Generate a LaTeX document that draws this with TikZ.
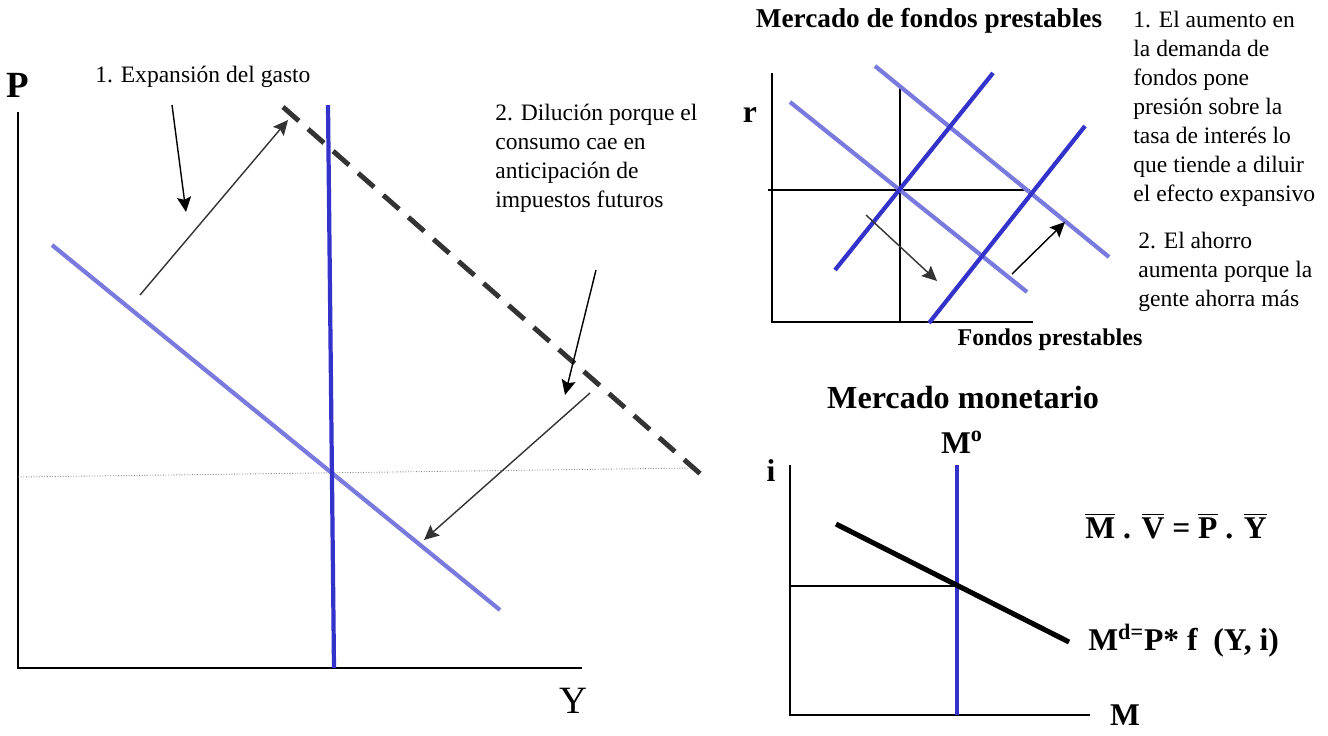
\documentclass[tikz,border=0pt]{standalone}
\usepackage{fontspec}
\setmainfont{Liberation Serif}
\usetikzlibrary{arrows.meta}
\definecolor{adblue}{RGB}{122,122,222}
\definecolor{asblue}{RGB}{51,51,204}
\definecolor{darkg}{HTML}{333333}
\newcommand{\ob}[1]{$\overline{\mbox{#1}}$}

\begin{document}
\begin{tikzpicture}[x=.02cm,y=-.02cm,
  axis/.style={line width=1.1pt},
  dline/.style={adblue,line width=2.4pt},
  sline/.style={asblue,line width=2.4pt},
  note/.style={font=\fontsize{13.4}{16.5}\selectfont,align=left,anchor=base west,inner sep=0},
  big/.style={font=\bfseries\fontsize{#1}{#1}\selectfont,anchor=base,inner sep=0},
  pointer/.style={-{Stealth[length=8.5pt,width=8pt,inset=1.5pt]},line width=.8pt}]
\useasboundingbox (0,0) rectangle (1328,735);
% left: P-Y graph
\draw[axis] (18,112)--(18,668)--(582,668);
\node[big=21] (plab) at (18,97){P};
\node[big=22,font=\fontsize{22}{22}\selectfont] (ylab) at (573,713){Y};
\draw[gray,densely dotted,line width=.5pt] (18,477)--(690,468);
\draw[dline] (52,245)--(500,610);
\draw[sline] (328,105)--(334,668);
\draw[darkg,line width=2.8pt,dash pattern=on 12pt off 7pt] (283,107)--(705,478);
\draw[pointer,darkg] (140,295)--(288,120);
\draw[pointer,darkg] (590,393)--(424,540);
\draw[pointer] (172,105)--(186,212);
\draw[pointer] (596,270)--(565,395);
\node[note] (gasto) at (95,82){1. Expansión del gasto};
% multi-line notes sit on the baseline of their last line
\node[note] (dilucion) at (495,207){2. Dilución porque el\\consumo cae en\\anticipación de\\impuestos futuros};
% top right: loanable funds
\node[big=15.5] (tfondos) at (929,27){Mercado de fondos prestables};
\draw[axis] (772,73)--(772,322)--(1033,322);
\node[big=18] (rlab) at (750,122){r};
\node[big=13.7] (flab) at (1050,345){Fondos prestables};
\draw[line width=.9pt] (900,88)--(900,322);
\draw[line width=.9pt] (768,190)--(1030,190);
\draw[dline] (790,102)--(1027,292);
\draw[dline] (875,66)--(1109,257);
\draw[sline] (835,270)--(993,73);
\draw[sline] (929,323)--(1085,126);
\draw[pointer,darkg] (866,215)--(937,281);
\draw[pointer] (1012,274)--(1065,222);
\node[note] (aumento) at (1133,201){1. El aumento en\\la demanda de\\fondos pone\\presión sobre la\\tasa de interés lo\\que tiende a diluir\\el efecto expansivo};
\node[note] (ahorro) at (1138,306){2. El ahorro\\aumenta porque la\\gente ahorra más};
% bottom right: money market
\node[big=18.3] (tmon) at (963,408){Mercado monetario};
\draw[axis] (790,465)--(790,715)--(1090,715);
\node[big=18] (ilab) at (771,481){i};
\node[big=18] (mlab) at (1125,725){M};
\node[big=18] (mo) at (962,453){M\textsuperscript{o}};
\draw[line width=.9pt] (790,586)--(957,586);
\draw[sline] (957,465)--(957,715);
\draw[line width=2.9pt] (836,524)--(1069,642);
\node[big=18,anchor=base west] (eq) at (1085,538){\ob{M} . \ob{V} = \ob{P} . \ob{Y}};
\node[big=18,anchor=base west] (md) at (1088,650){M\textsuperscript{d=}P* f\ \ (Y, i)};
\end{tikzpicture}
\end{document}
